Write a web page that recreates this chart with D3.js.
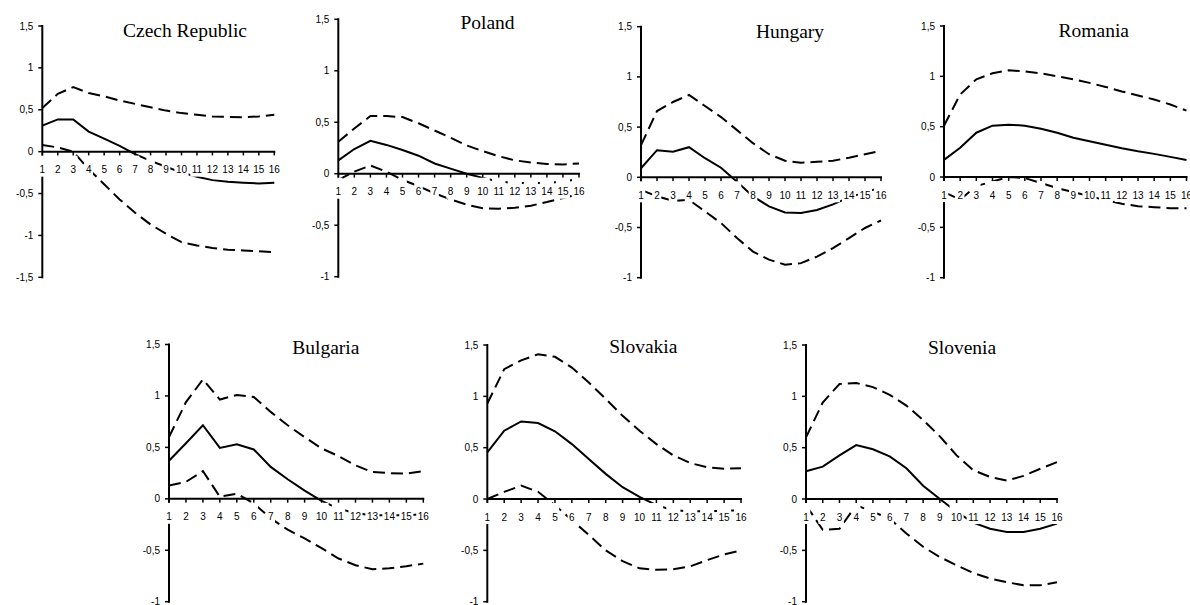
<!DOCTYPE html>
<html><head><meta charset="utf-8">
<script src="https://cdn.jsdelivr.net/npm/d3@7"></script>
<style>body{margin:0;background:#fff}</style>
</head><body>
<svg id="chart" width="1190" height="605"></svg>
<script>
// ---- data ----
const horizons = [1,2,3,4,5,6,7,8,9,10,11,12,13,14,15,16];
const countries = ["Czech Republic","Poland","Hungary","Romania","Bulgaria","Slovakia","Slovenia"];
const yTickValues = [1.5,1,0.5,0,-0.5,-1,-1.5];
const yTickLabels = ["1,5","1","0,5","0","-0,5","-1","-1,5"];

const czechMid   = [0.31,0.385,0.385,0.24,0.155,0.07,-0.03,-0.11,-0.18,-0.25,-0.30,-0.34,-0.36,-0.37,-0.38,-0.37];
const czechUpper = [0.52,0.69,0.77,0.70,0.66,0.61,0.57,0.53,0.49,0.46,0.44,0.42,0.415,0.41,0.42,0.44];
const czechLower = [0.08,0.05,0.0,-0.21,-0.39,-0.57,-0.73,-0.87,-0.98,-1.08,-1.12,-1.15,-1.17,-1.18,-1.19,-1.2];

const polandMid   = [0.13,0.24,0.32,0.28,0.23,0.175,0.10,0.05,0.0,-0.04,-0.075,-0.09,-0.09,-0.09,-0.075,-0.05];
const polandUpper = [0.31,0.44,0.56,0.56,0.55,0.49,0.42,0.35,0.275,0.22,0.17,0.13,0.11,0.095,0.09,0.10];
const polandLower = [-0.06,0.02,0.08,0.02,-0.06,-0.12,-0.19,-0.25,-0.30,-0.335,-0.34,-0.33,-0.31,-0.275,-0.235,-0.20];

const hungaryMid   = [0.09,0.27,0.255,0.30,0.19,0.095,-0.045,-0.19,-0.29,-0.35,-0.355,-0.325,-0.27,-0.20,-0.15,-0.10];
const hungaryUpper = [0.32,0.66,0.75,0.82,0.71,0.60,0.47,0.34,0.23,0.165,0.145,0.155,0.165,0.195,0.23,0.265];
const hungaryLower = [-0.125,-0.19,-0.235,-0.225,-0.34,-0.455,-0.605,-0.74,-0.82,-0.87,-0.855,-0.79,-0.705,-0.605,-0.505,-0.43];

const romaniaMid   = [0.17,0.29,0.44,0.51,0.52,0.51,0.48,0.44,0.39,0.355,0.32,0.285,0.255,0.23,0.20,0.17];
const romaniaUpper = [0.51,0.82,0.97,1.03,1.06,1.05,1.03,1.0,0.97,0.935,0.895,0.85,0.81,0.77,0.72,0.66];
const romaniaLower = [-0.15,-0.225,-0.09,-0.045,0.0,-0.01,-0.06,-0.11,-0.15,-0.19,-0.23,-0.265,-0.29,-0.30,-0.31,-0.31];

const bulgariaMid   = [0.37,0.54,0.715,0.495,0.53,0.48,0.31,0.19,0.08,-0.02,-0.095,-0.14,-0.16,-0.16,-0.16,-0.15];
const bulgariaUpper = [0.60,0.94,1.16,0.965,1.01,0.99,0.845,0.715,0.60,0.49,0.415,0.325,0.26,0.25,0.245,0.27];
const bulgariaLower = [0.13,0.165,0.27,0.02,0.05,-0.045,-0.19,-0.30,-0.385,-0.48,-0.58,-0.645,-0.685,-0.675,-0.655,-0.63];

const slovakiaMid   = [0.455,0.665,0.755,0.74,0.66,0.535,0.39,0.245,0.115,0.02,-0.06,-0.11,-0.12,-0.12,-0.115,-0.11];
const slovakiaUpper = [0.93,1.265,1.35,1.41,1.385,1.28,1.135,0.975,0.81,0.665,0.535,0.425,0.35,0.31,0.295,0.30];
const slovakiaLower = [0.0,0.07,0.13,0.07,-0.06,-0.205,-0.35,-0.50,-0.605,-0.675,-0.69,-0.685,-0.655,-0.595,-0.54,-0.50];

const sloveniaMid   = [0.27,0.315,0.425,0.525,0.485,0.415,0.30,0.13,0.0,-0.125,-0.23,-0.29,-0.32,-0.32,-0.29,-0.24];
const sloveniaUpper = [0.60,0.94,1.12,1.13,1.09,1.015,0.91,0.77,0.61,0.425,0.28,0.215,0.18,0.225,0.295,0.36];
const sloveniaLower = [-0.06,-0.30,-0.29,-0.06,-0.125,-0.19,-0.335,-0.465,-0.565,-0.645,-0.72,-0.775,-0.81,-0.84,-0.84,-0.81];

const mids   = [czechMid, polandMid, hungaryMid, romaniaMid, bulgariaMid, slovakiaMid, sloveniaMid];
const uppers = [czechUpper, polandUpper, hungaryUpper, romaniaUpper, bulgariaUpper, slovakiaUpper, sloveniaUpper];
const lowers = [czechLower, polandLower, hungaryLower, romaniaLower, bulgariaLower, slovakiaLower, sloveniaLower];
const yMins  = [-1.5,-1,-1,-1,-1,-1,-1];

// ---- layout (pixels) ----
const layout = [
  {x0:42.3,  x1:274.3, yTop:26,   yBot:277.3, tx:185,   ty:37},
  {x0:338.3, x1:579,   yTop:19.3, yBot:276.7, tx:487.5, ty:29},
  {x0:641,   x1:881,   yTop:26.7, yBot:277.7, tx:790,   ty:37.5},
  {x0:944,   x1:1186.5,yTop:26,   yBot:277.7, tx:1093.8,ty:37.3},
  {x0:169,   x1:423.3, yTop:344.5,yBot:601.7, tx:325.8, ty:354},
  {x0:487.3, x1:741,   yTop:345,  yBot:601.7, tx:643.3, ty:353.3},
  {x0:806,   x1:1057,  yTop:345,  yBot:601.7, tx:962,   ty:354}
];

const svg = d3.select("#chart");
svg.append("rect").attr("width",1190).attr("height",605).attr("fill","#fff");

countries.forEach((name, i) => {
  const L = layout[i];
  const g = svg.append("g");
  const x = d3.scaleLinear().domain([1,16]).range([L.x0, L.x1]);
  const y = d3.scaleLinear().domain([1.5, yMins[i]]).range([L.yTop, L.yBot]);
  const line = d3.line().x((d,k)=>x(horizons[k])).y(d=>y(d));

  // series
  g.append("path").datum(uppers[i]).attr("d", line).attr("fill","none")
    .attr("stroke","#000").attr("stroke-width",2).attr("stroke-dasharray","12,6");
  g.append("path").datum(lowers[i]).attr("d", line).attr("fill","none")
    .attr("stroke","#000").attr("stroke-width",2).attr("stroke-dasharray","12,6");
  g.append("path").datum(mids[i]).attr("d", line).attr("fill","none")
    .attr("stroke","#000").attr("stroke-width",2);

  // y axis
  const yVals = yTickValues.filter(v => v >= yMins[i]);
  g.append("line").attr("x1",x(1)).attr("x2",x(1)).attr("y1",y(1.5)-1).attr("y2",y(yMins[i])+1)
    .attr("stroke","#000").attr("stroke-width",2);
  g.selectAll(".yt").data(yVals).enter().append("line")
    .attr("x1",x(1)-4).attr("x2",x(1)).attr("y1",d=>y(d)).attr("y2",d=>y(d))
    .attr("stroke","#000").attr("stroke-width",1.5);
  g.selectAll(".yl").data(yVals).enter().append("text")
    .attr("x",x(1)-9).attr("y",d=>y(d)).attr("dy","0.35em")
    .attr("text-anchor","end").attr("font-family","Liberation Sans, Arial, sans-serif")
    .attr("font-size",10).attr("fill","#000")
    .text(d => yTickLabels[yTickValues.indexOf(d)]);

  // x axis
  g.append("line").attr("x1",x(1)).attr("x2",x(16)+1).attr("y1",y(0)).attr("y2",y(0))
    .attr("stroke","#000").attr("stroke-width",2);
  g.selectAll(".xt").data(horizons.slice(1)).enter().append("line")
    .attr("x1",d=>x(d)).attr("x2",d=>x(d)).attr("y1",y(0)).attr("y2",y(0)+4)
    .attr("stroke","#000").attr("stroke-width",1.5);

  // x tick labels with white masking boxes
  horizons.forEach(h => {
    const lg = g.append("g");
    const r = lg.append("rect").attr("fill","#fff");
    const t = lg.append("text").attr("x",x(h)).attr("y",y(0)+21.5)
      .attr("text-anchor","middle").attr("font-family","Liberation Sans, Arial, sans-serif")
      .attr("font-size",10).attr("fill","#000").text(String(h));
    const w = t.node().getComputedTextLength();
    r.attr("x",x(h)-w/2-1.5).attr("width",w+3).attr("y",y(0)+4).attr("height",21);
  });

  // title
  g.append("text").attr("x",L.tx).attr("y",L.ty).attr("text-anchor","middle")
    .attr("font-family","Liberation Serif, Times New Roman, serif").attr("font-size",19.5)
    .attr("font-weight","normal").attr("fill","#000").text(name);
});
</script>
</body></html>
